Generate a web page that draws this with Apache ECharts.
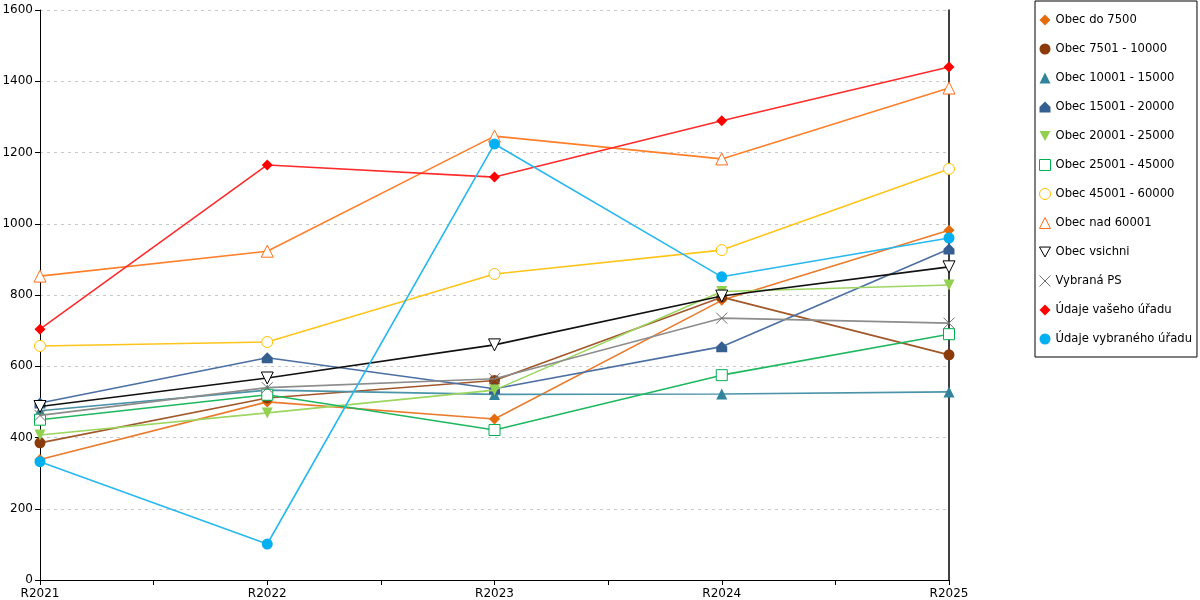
<!DOCTYPE html>
<html><head><meta charset="utf-8">
<script src="https://cdn.jsdelivr.net/npm/echarts@6/dist/echarts.min.js"></script>
<style>html,body{margin:0;padding:0;background:#fff}#c{width:1200px;height:600px}</style>
</head><body><div id="c"></div>
<script>
var categories = ['R2021','R2022','R2023','R2024','R2025'];
var yTicks = [0,200,400,600,800,1000,1200,1400,1600];
var names = ['Obec do 7500','Obec 7501 - 10000','Obec 10001 - 15000','Obec 15001 - 20000','Obec 20001 - 25000','Obec 25001 - 45000','Obec 45001 - 60000','Obec nad 60001','Obec vsichni','Vybraná PS','Údaje vašeho úřadu','Údaje vybraného úřadu'];
var obecDo7500 = [338, 500, 452, 785, 982];
var obec7501 = [385, 511, 560, 794, 632];
var obec10001 = [475, 533, 521, 522, 528];
var obec15001 = [497, 624, 537, 655, 929];
var obec20001 = [407, 469, 533, 810, 828];
var obec25001 = [450, 520, 421, 575, 690];
var obec45001 = [657, 668, 859, 926, 1154];
var obecNad60001 = [853, 923, 1246, 1182, 1381];
var obecVsichni = [487, 567, 660, 797, 879];
var vybranaPS = [462, 540, 565, 735, 721];
var udajeVaseho = [704, 1165, 1131, 1289, 1440];
var udajeVybraneho = [332, 101, 1224, 851, 960];

var values = [obecDo7500, obec7501, obec10001, obec15001, obec20001, obec25001, obec45001, obecNad60001, obecVsichni, vybranaPS, udajeVaseho, udajeVybraneho];

var INV_TRI = 'path://M0,0 L10,0 L5,9 Z';
var HOUSE = 'path://M5,0 L10,5 L10,10 L0,10 L0,5 Z';
var CROSS = 'path://M0,0 L10,10 M10,0 L0,10';
var styles = [
  {sym:'diamond', size:11, mc:'#E46C0A', lc:'#EA7A2C', empty:false},
  {sym:'circle', size:11, mc:'#8B3A0A', lc:'#A0582A', empty:false},
  {sym:'triangle', size:11, mc:'#31849B', lc:'#4A93A8', empty:false},
  {sym:HOUSE, size:11, mc:'#365F91', lc:'#4B6FA3', empty:false},
  {sym:INV_TRI, size:11, mc:'#92D050', lc:'#9CD660', empty:false},
  {sym:'rect', size:11, mc:'#00B050', lc:'#1DB85E', empty:true},
  {sym:'circle', size:11, mc:'#FFC000', lc:'#FFC41A', empty:true},
  {sym:'triangle', size:12, mc:'#FF6F1A', lc:'#FF7F2A', empty:true},
  {sym:INV_TRI, size:12, mc:'#000000', lc:'#111111', empty:true},
  {sym:CROSS, size:11, mc:'#707070', lc:'#8C8C8C', empty:true},
  {sym:'diamond', size:11, mc:'#FF0000', lc:'#FF2A2A', empty:false},
  {sym:'circle', size:11, mc:'#00B0F0', lc:'#26B8EE', empty:false}
];

function itemStyleFor(s){
  if (s.sym === CROSS) return {color:'rgba(0,0,0,0)', borderColor:s.mc, borderWidth:1};
  if (s.empty) return {color:'#ffffff', borderColor:s.mc, borderWidth:1};
  return {color:s.mc, borderColor:s.mc, borderWidth:0};
}

var series = values.map(function(arr, i){
  var s = styles[i];
  return {
    name: names[i],
    type: 'line',
    data: arr.map(function(v, j){ return [j, v]; }),
    symbol: s.sym,
    symbolSize: s.size,
    showAllSymbol: true,
    itemStyle: itemStyleFor(s),
    lineStyle: {color: s.lc, width: 1.6},
    emphasis: {disabled: true},
    animation: false,
    z: 2 + i
  };
});

var legendData = names.map(function(n, i){
  var s = styles[i];
  return {name: n, icon: s.sym, itemStyle: itemStyleFor(s)};
});

var chart = echarts.init(document.getElementById('c'), null, {renderer:'canvas'});
chart.setOption({
  animation: false,
  backgroundColor: '#ffffff',
  textStyle: {fontFamily: 'DejaVu Sans'},
  grid: {left: 40, right: 251, top: 10, bottom: 20, containLabel: false, outerBoundsMode: 'none'},
  xAxis: {
    type: 'value', min: 0, max: categories.length - 1, interval: 0.5,
    axisLine: {show: true, lineStyle: {color: '#000', width: 1}},
    axisTick: {show: true, length: 5, lineStyle: {color: '#000'}},
    splitLine: {show: false},
    axisLabel: {
      color: '#000', fontSize: 12, fontFamily: 'DejaVu Sans', margin: 8,
      formatter: function(v){ return Number.isInteger(v) ? categories[v] : ''; }
    }
  },
  yAxis: [{
    type: 'value', min: yTicks[0], max: yTicks[yTicks.length-1], interval: yTicks[1]-yTicks[0],
    axisLine: {show: true, lineStyle: {color: '#000', width: 1}},
    axisTick: {show: true, length: 5, lineStyle: {color: '#000'}},
    splitLine: {show: true, lineStyle: {color: '#C8C8C8', type: [3, 4], width: 1}},
    axisLabel: {color: '#000', fontSize: 12, fontFamily: 'DejaVu Sans', margin: 7,
      formatter: function(v){ return String(v); }}
  }, {
    type: 'value', min: yTicks[0], max: yTicks[yTicks.length-1], position: 'right',
    axisLine: {show: true, onZero: false, lineStyle: {color: '#000', width: 1.5}},
    axisTick: {show: false}, axisLabel: {show: false}, splitLine: {show: false}
  }],
  legend: {
    orient: 'vertical', left: 1035, top: 1,
    padding: [12, 5, 11, 4],
    itemWidth: 11, itemHeight: 11, itemGap: 15,
    borderColor: '#000', borderWidth: 1,
    backgroundColor: '#fff',
    selectedMode: false,
    textStyle: {color: '#000', fontSize: 11.6, fontFamily: 'DejaVu Sans', lineHeight: 14},
    data: legendData
  },
  series: series
});
</script></body></html>
